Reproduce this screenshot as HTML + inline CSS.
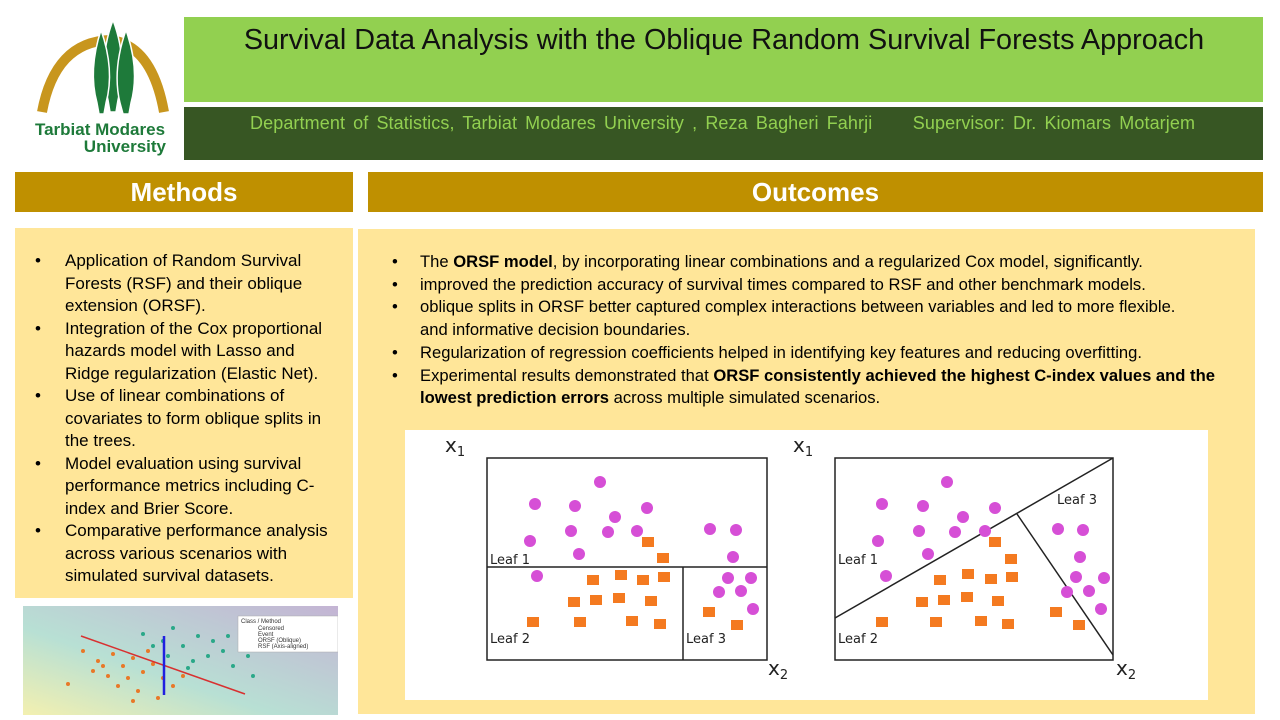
<!DOCTYPE html>
<html><head><meta charset="utf-8"><style>
body{margin:0;width:1280px;height:720px;background:#fff;position:relative;overflow:hidden;font-family:"Liberation Sans",sans-serif}
.a{position:absolute}
ul{margin:0;padding:0;list-style:none}
li{margin:0;position:relative;white-space:nowrap}
li span.b{position:absolute}
</style></head><body>
<svg class="a" style="left:25px;top:15px" width="150" height="145" viewBox="25 15 150 145">
<path d="M42 112 Q55 42 110 40 Q152 45 164 112" fill="none" stroke="#C8961E" stroke-width="10"/>
<g fill="#1E7A3A" stroke="#fff" stroke-width="1.5">
<path d="M108 100 Q98 60 113 20 Q128 60 118 100 L116 112 L110 112Z"/>
<path d="M120 103 Q112 70 126 30 Q140 70 131 103 L129 114 L123 114Z"/>
<path d="M97 103 Q88 70 101 30 Q115 70 106 103 L104 114 L99 114Z"/>
</g>
<text x="100" y="135" text-anchor="middle" font-family="Liberation Sans" font-weight="bold" font-size="17" fill="#1E7A3A">Tarbiat Modares</text>
<text x="166" y="152" text-anchor="end" font-family="Liberation Sans" font-weight="bold" font-size="17" fill="#1E7A3A">University</text>
</svg>
<div class="a" style="left:184px;top:17px;width:1079px;height:85px;background:#92D050"></div>
<div class="a" style="left:184px;top:24px;width:1080px;text-align:center;font-size:28.8px;color:#111">Survival Data Analysis with the Oblique Random Survival Forests Approach</div>
<div class="a" style="left:184px;top:107px;width:1079px;height:53px;background:#375623"></div>
<div class="a" style="left:250px;top:113px;font-size:18px;color:#92D050;word-spacing:3px;letter-spacing:0.1px;white-space:pre">Department of Statistics, Tarbiat Modares University , Reza Bagheri Fahrji     Supervisor: Dr. Kiomars Motarjem</div>
<div class="a" style="left:15px;top:172px;width:338px;height:40px;background:#BF9000;color:#fff;font-weight:bold;font-size:26px;text-align:center;line-height:40px">Methods</div>
<div class="a" style="left:368px;top:172px;width:895px;height:40px;background:#BF9000;color:#fff;font-weight:bold;font-size:26px;text-align:center;line-height:40px">Outcomes</div>
<div class="a" style="left:15px;top:228px;width:338px;height:370px;background:#FFE699"></div>
<div class="a" style="left:65px;top:250px;font-size:17px;line-height:22.5px;color:#000">
<ul>
<li><span class="b" style="left:-30px">•</span>Application of Random Survival<br>Forests (RSF) and their oblique<br>extension (ORSF).</li>
<li><span class="b" style="left:-30px">•</span>Integration of the Cox proportional<br>hazards model with Lasso and<br>Ridge regularization (Elastic Net).</li>
<li><span class="b" style="left:-30px">•</span>Use of linear combinations of<br>covariates to form oblique splits in<br>the trees.</li>
<li><span class="b" style="left:-30px">•</span>Model evaluation using survival<br>performance metrics including C-<br>index and Brier Score.</li>
<li><span class="b" style="left:-30px">•</span>Comparative performance analysis<br>across various scenarios with<br>simulated survival datasets.</li>
</ul></div>
<div class="a" style="left:358px;top:229px;width:897px;height:485px;background:#FFE699"></div>
<div class="a" style="left:420px;top:251px;font-size:16.6px;line-height:22.7px;color:#000">
<ul>
<li><span class="b" style="left:-28px">•</span>The <b>ORSF model</b>, by incorporating linear combinations and a regularized Cox model, significantly.</li>
<li><span class="b" style="left:-28px">•</span>improved the prediction accuracy of survival times compared to RSF and other benchmark models.</li>
<li><span class="b" style="left:-28px">•</span>oblique splits in ORSF better captured complex interactions between variables and led to more flexible.<br>and informative decision boundaries.</li>
<li><span class="b" style="left:-28px">•</span>Regularization of regression coefficients helped in identifying key features and reducing overfitting.</li>
<li><span class="b" style="left:-28px">•</span>Experimental results demonstrated that <b>ORSF consistently achieved the highest C-index values and the</b><br><b>lowest prediction errors</b> across multiple simulated scenarios.</li>
</ul></div>
<svg class="a" style="left:405px;top:430px" width="803" height="270" viewBox="405 430 803 270">
<rect x="405" y="430" width="803" height="270" fill="#fff"/>
<g font-family="DejaVu Sans" font-size="20" fill="#222">
<text x="445" y="452">x<tspan font-size="13" dy="4">1</tspan></text>
<text x="793" y="452">x<tspan font-size="13" dy="4">1</tspan></text>
<text x="768" y="675">x<tspan font-size="13" dy="4">2</tspan></text>
<text x="1116" y="675">x<tspan font-size="13" dy="4">2</tspan></text>
</g>
<g fill="none" stroke="#222" stroke-width="1.5">
<rect x="487" y="458" width="280" height="202"/>
<line x1="487" y1="567" x2="767" y2="567"/><line x1="683" y1="567" x2="683" y2="660"/>
<rect x="835" y="458" width="278" height="202"/>
<line x1="835" y1="618" x2="1113" y2="458"/><line x1="1017" y1="514" x2="1113" y2="655"/>
</g>
<g font-family="DejaVu Sans" font-size="13" fill="#222">
<text x="490" y="564">Leaf 1</text><text x="490" y="643">Leaf 2</text><text x="686" y="643">Leaf 3</text>
<text x="838" y="564">Leaf 1</text><text x="838" y="643">Leaf 2</text><text x="1057" y="504">Leaf 3</text>
</g>
<g fill="#D64FD6">
<circle cx="535" cy="504" r="6"/><circle cx="575" cy="506" r="6"/><circle cx="600" cy="482" r="6"/><circle cx="647" cy="508" r="6"/><circle cx="615" cy="517" r="6"/><circle cx="571" cy="531" r="6"/><circle cx="608" cy="532" r="6"/><circle cx="637" cy="531" r="6"/><circle cx="530" cy="541" r="6"/><circle cx="579" cy="554" r="6"/><circle cx="710" cy="529" r="6"/><circle cx="736" cy="530" r="6"/><circle cx="733" cy="557" r="6"/><circle cx="537" cy="576" r="6"/><circle cx="728" cy="578" r="6"/><circle cx="751" cy="578" r="6"/><circle cx="741" cy="591" r="6"/><circle cx="753" cy="609" r="6"/><circle cx="719" cy="592" r="6"/>
<circle cx="882" cy="504" r="6"/><circle cx="923" cy="506" r="6"/><circle cx="947" cy="482" r="6"/><circle cx="995" cy="508" r="6"/><circle cx="963" cy="517" r="6"/><circle cx="919" cy="531" r="6"/><circle cx="955" cy="532" r="6"/><circle cx="985" cy="531" r="6"/><circle cx="878" cy="541" r="6"/><circle cx="928" cy="554" r="6"/><circle cx="1058" cy="529" r="6"/><circle cx="1083" cy="530" r="6"/><circle cx="1080" cy="557" r="6"/><circle cx="886" cy="576" r="6"/><circle cx="1076" cy="577" r="6"/><circle cx="1104" cy="578" r="6"/><circle cx="1089" cy="591" r="6"/><circle cx="1101" cy="609" r="6"/><circle cx="1067" cy="592" r="6"/>
</g>
<g fill="#F47A20">
<rect x="642" y="537" width="12" height="10"/><rect x="657" y="553" width="12" height="10"/><rect x="587" y="575" width="12" height="10"/><rect x="615" y="570" width="12" height="10"/><rect x="637" y="575" width="12" height="10"/><rect x="658" y="572" width="12" height="10"/><rect x="568" y="597" width="12" height="10"/><rect x="590" y="595" width="12" height="10"/><rect x="613" y="593" width="12" height="10"/><rect x="645" y="596" width="12" height="10"/><rect x="527" y="617" width="12" height="10"/><rect x="574" y="617" width="12" height="10"/><rect x="626" y="616" width="12" height="10"/><rect x="654" y="619" width="12" height="10"/><rect x="703" y="607" width="12" height="10"/><rect x="731" y="620" width="12" height="10"/>
<rect x="989" y="537" width="12" height="10"/><rect x="1005" y="554" width="12" height="10"/><rect x="934" y="575" width="12" height="10"/><rect x="962" y="569" width="12" height="10"/><rect x="985" y="574" width="12" height="10"/><rect x="1006" y="572" width="12" height="10"/><rect x="916" y="597" width="12" height="10"/><rect x="938" y="595" width="12" height="10"/><rect x="961" y="592" width="12" height="10"/><rect x="992" y="596" width="12" height="10"/><rect x="876" y="617" width="12" height="10"/><rect x="930" y="617" width="12" height="10"/><rect x="975" y="616" width="12" height="10"/><rect x="1002" y="619" width="12" height="10"/><rect x="1050" y="607" width="12" height="10"/><rect x="1073" y="620" width="12" height="10"/>
</g>
</svg>
<svg class="a" style="left:23px;top:606px" width="315" height="109" viewBox="0 0 315 109">
<defs><linearGradient id="g" x1="0" y1="1" x2="1" y2="0"><stop offset="0" stop-color="#F3F0B0"/><stop offset="0.4" stop-color="#B8E0D4"/><stop offset="1" stop-color="#C4B4D4"/></linearGradient></defs>
<rect width="315" height="109" fill="url(#g)"/>
<g fill="#E87828">
<circle cx="60" cy="45" r="2"/><circle cx="75" cy="55" r="2"/><circle cx="90" cy="48" r="2"/><circle cx="100" cy="60" r="2"/><circle cx="110" cy="52" r="2"/><circle cx="120" cy="66" r="2"/><circle cx="130" cy="58" r="2"/><circle cx="85" cy="70" r="2"/><circle cx="140" cy="72" r="2"/><circle cx="95" cy="80" r="2"/><circle cx="115" cy="85" r="2"/><circle cx="150" cy="80" r="2"/><circle cx="70" cy="65" r="2"/><circle cx="105" cy="72" r="2"/><circle cx="125" cy="45" r="2"/><circle cx="45" cy="78" r="2"/><circle cx="135" cy="92" r="2"/><circle cx="160" cy="70" r="2"/><circle cx="110" cy="95" r="2"/><circle cx="80" cy="60" r="2"/>
</g>
<g fill="#2AA888">
<circle cx="120" cy="28" r="2"/><circle cx="140" cy="35" r="2"/><circle cx="160" cy="40" r="2"/><circle cx="175" cy="30" r="2"/><circle cx="185" cy="50" r="2"/><circle cx="200" cy="45" r="2"/><circle cx="170" cy="55" r="2"/><circle cx="150" cy="22" r="2"/><circle cx="210" cy="60" r="2"/><circle cx="190" cy="35" r="2"/><circle cx="225" cy="50" r="2"/><circle cx="165" cy="62" r="2"/><circle cx="130" cy="40" r="2"/><circle cx="230" cy="70" r="2"/><circle cx="145" cy="50" r="2"/><circle cx="205" cy="30" r="2"/>
</g>
<line x1="58" y1="30" x2="222" y2="88" stroke="#D83030" stroke-width="1.5"/>
<line x1="141" y1="30" x2="141" y2="89" stroke="#2020E0" stroke-width="2.5"/>
<rect x="215" y="10" width="100" height="36" fill="#fff" stroke="#aaa" stroke-width="0.5"/>
<g font-size="6" font-family="Liberation Sans" fill="#333"><text x="218" y="17">Class / Method</text><text x="235" y="24">Censored</text><text x="235" y="30">Event</text><text x="235" y="36">ORSF (Oblique)</text><text x="235" y="42">RSF (Axis-aligned)</text></g>
</svg>
</body></html>
